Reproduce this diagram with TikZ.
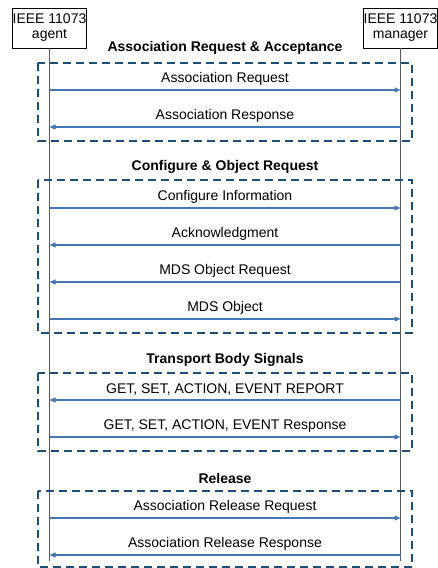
\documentclass[tikz,border=0pt]{standalone}
\usepackage{fontspec}
\setmainfont{Liberation Sans}
\usetikzlibrary{arrows.meta}
\definecolor{lifegray}{HTML}{595959}
\definecolor{msgblue}{HTML}{4576B5}
\definecolor{boxblue}{HTML}{1F4E79}
\begin{document}
\begin{tikzpicture}[x=1pt,y=-1pt,
  actor/.style={draw=black,line width=0.8pt,minimum width=73pt,minimum height=40pt,inner xsep=0pt,inner ysep=0pt,align=center,font=\fontsize{14}{15}\selectfont},
  life/.style={draw=lifegray,line width=1.3pt},
  msg/.style={draw=msgblue,line width=1.3pt,-{Triangle[length=6pt,width=5pt]}},
  lbl/.style={midway,above=4pt,inner sep=0pt,font=\fontsize{14}{16}\selectfont},
  ttl/.style={inner sep=0pt,font=\fontsize{14}{16}\selectfont\bfseries},
  grp/.style={draw=boxblue,line width=2.2pt,dash pattern=on 8pt off 5pt}]
\useasboundingbox (0,0) rectangle (438,568);
\fill[white] (0,0) rectangle (438,568);

\node[actor] (agent) at (49.5,28) {IEEE 11073\\agent};
\node[actor] (manager) at (400.5,28) {IEEE 11073\\manager};
\coordinate (aend) at (49.5,561);
\coordinate (mend) at (400.5,561);
\draw[life] (agent.south) -- (aend);
\draw[life] (manager.south) -- (mend);

% group frames
\draw[grp] (38,63) rectangle (412,141);
\draw[grp] (38,180) rectangle (412,333);
\draw[grp] (38,373) rectangle (412,451);
\draw[grp] (38,491) rectangle (412,567);

% titles
\node[ttl] (t1) at (225,48) {Association Request \& Acceptance};
\node[ttl] (t2) at (225,167) {Configure \& Object Request};
\node[ttl] (t3) at (225,360) {Transport Body Signals};
\node[ttl] (t4) at (225,478) {Release};

% message end points on lifelines
\foreach \n/\y in {1/90,2/127,3/208,4/245,5/282,6/319,7/400,8/437,9/518,10/555}{
  \coordinate (a\n) at (49.5,\y);
  \coordinate (m\n) at (400.5,\y);
}

\draw[msg] (a1) -- (m1) node[lbl] {Association Request};
\draw[msg] (m2) -- (a2) node[lbl] {Association Response};
\draw[msg] (a3) -- (m3) node[lbl] {Configure Information};
\draw[msg] (m4) -- (a4) node[lbl] {Acknowledgment};
\draw[msg] (m5) -- (a5) node[lbl] {MDS Object Request};
\draw[msg] (a6) -- (m6) node[lbl] {MDS Object};
\draw[msg] (m7) -- (a7) node[lbl] {GET, SET, ACTION, EVENT REPORT};
\draw[msg] (a8) -- (m8) node[lbl] {GET, SET, ACTION, EVENT Response};
\draw[msg] (a9) -- (m9) node[lbl] {Association Release Request};
\draw[msg] (m10) -- (a10) node[lbl] {Association Release Response};
\end{tikzpicture}
\end{document}
